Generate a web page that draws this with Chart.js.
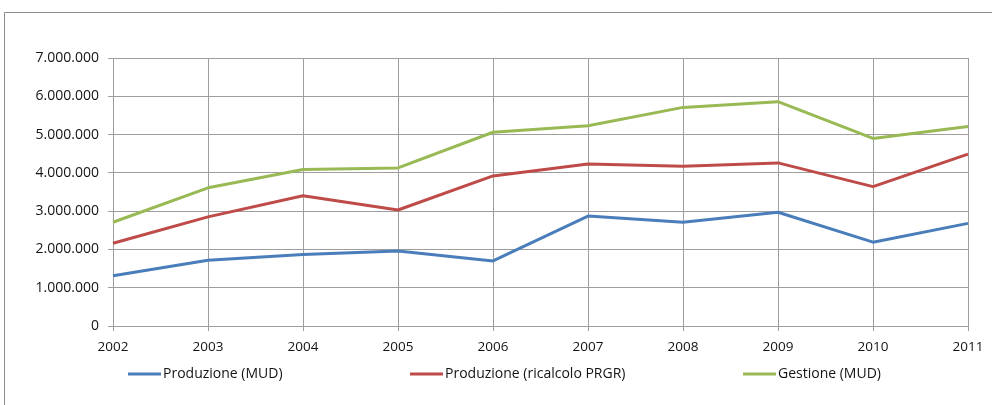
<!DOCTYPE html>
<html lang="it">
<head>
<meta charset="utf-8">
<title>Produzione e gestione (MUD)</title>
<script src="https://cdn.jsdelivr.net/npm/chart.js@4/dist/chart.umd.min.js"></script>
<style>
  html, body { margin: 0; padding: 0; background: #ffffff; }
  #wrap { position: relative; width: 992px; height: 405px; }
</style>
</head>
<body>
<div id="wrap"><canvas id="chart"></canvas></div>
<script>
// Anni
const years = ['2002', '2003', '2004', '2005', '2006', '2007', '2008', '2009', '2010', '2011'];

// Produzione (MUD)
const produzioneMud = [1310000, 1720000, 1870000, 1960000, 1700000, 2870000, 2710000, 2970000, 2190000, 2680000];

// Produzione (ricalcolo PRGR)
const produzionePrgr = [2160000, 2850000, 3400000, 3030000, 3920000, 4230000, 4170000, 4260000, 3640000, 4490000];

// Gestione (MUD)
const gestioneMud = [2710000, 3610000, 4090000, 4130000, 5060000, 5230000, 5710000, 5860000, 4900000, 5210000];

// Asse dei valori
const yMin = 0;
const yMax = 7000000;
const yStep = 1000000;

const seriesLabels = ['Produzione (MUD)', 'Produzione (ricalcolo PRGR)', 'Gestione (MUD)'];
const seriesColors = ['#4a7ebb', '#be4b48', '#98b954'];

const FONT = '"Open Sans", "DejaVu Sans", sans-serif';
const TEXT = '#141414';
const GRID = '#9e9e9e';

// Numeri con il punto come separatore delle migliaia
function formatIt(v) {
  return String(Math.round(v)).replace(/\B(?=(\d{3})+(?!\d))/g, '.');
}

// Cornice esterna del grafico
const framePlugin = {
  id: 'frame',
  beforeDraw(chart) {
    const ctx = chart.ctx;
    ctx.save();
    ctx.strokeStyle = '#8c8c8c';
    ctx.lineWidth = 1;
    ctx.beginPath();
    ctx.moveTo(4.5, chart.height + 2);
    ctx.lineTo(4.5, 12.5);
    ctx.lineTo(chart.width + 2, 12.5);
    ctx.stroke();
    ctx.restore();
  }
};

// Legenda in basso, una voce per serie
const legendLayout = { y: 374, starts: [128, 410, 743], sample: 33, gap: 2 };
const legendPlugin = {
  id: 'bottomLegend',
  afterDraw(chart) {
    const ctx = chart.ctx;
    ctx.save();
    ctx.font = '14px ' + FONT;
    ctx.textBaseline = 'middle';
    ctx.textAlign = 'left';
    chart.data.datasets.forEach((ds, i) => {
      const x = legendLayout.starts[i];
      const y = legendLayout.y;
      ctx.strokeStyle = ds.borderColor;
      ctx.lineWidth = 3;
      ctx.lineCap = 'butt';
      ctx.beginPath();
      ctx.moveTo(x, y);
      ctx.lineTo(x + legendLayout.sample, y);
      ctx.stroke();
      ctx.fillStyle = TEXT;
      ctx.fillText(ds.label, x + legendLayout.sample + legendLayout.gap, y + 0.5);
    });
    ctx.restore();
  }
};

const seriesValues = [produzioneMud, produzionePrgr, gestioneMud];

new Chart(document.getElementById('chart'), {
  type: 'line',
  data: {
    labels: years,
    datasets: seriesValues.map((values, i) => ({
      label: seriesLabels[i],
      data: values,
      borderColor: seriesColors[i],
      backgroundColor: seriesColors[i],
      borderWidth: 3,
      pointRadius: 0,
      pointHoverRadius: 0,
      tension: 0,
      fill: false,
      borderJoinStyle: 'round'
    }))
  },
  options: {
    responsive: true,
    maintainAspectRatio: false,
    animation: false,
    devicePixelRatio: 1,
    layout: { padding: { left: 0, top: 58, right: 24, bottom: 49 } },
    plugins: {
      legend: { display: false },
      tooltip: { enabled: false },
      title: { display: false }
    },
    scales: {
      x: {
        type: 'category',
        offset: false,
        afterFit(scale) { scale.height = 30; },
        grid: { color: GRID, lineWidth: 1, tickLength: 5, drawTicks: true },
        border: { color: GRID, width: 1 },
        ticks: {
          color: TEXT,
          font: { family: FONT, size: 13.5 },
          padding: 8,
          maxRotation: 0,
          autoSkip: false
        }
      },
      y: {
        min: yMin,
        max: yMax,
        afterFit(scale) { scale.width = 113; },
        grid: { color: GRID, lineWidth: 1, tickLength: 5, drawTicks: true },
        border: { color: GRID, width: 1 },
        ticks: {
          stepSize: yStep,
          color: TEXT,
          font: { family: FONT, size: 14 },
          padding: 9,
          callback: (v) => formatIt(v)
        }
      }
    }
  },
  plugins: [framePlugin, legendPlugin]
});
</script>
</body>
</html>
